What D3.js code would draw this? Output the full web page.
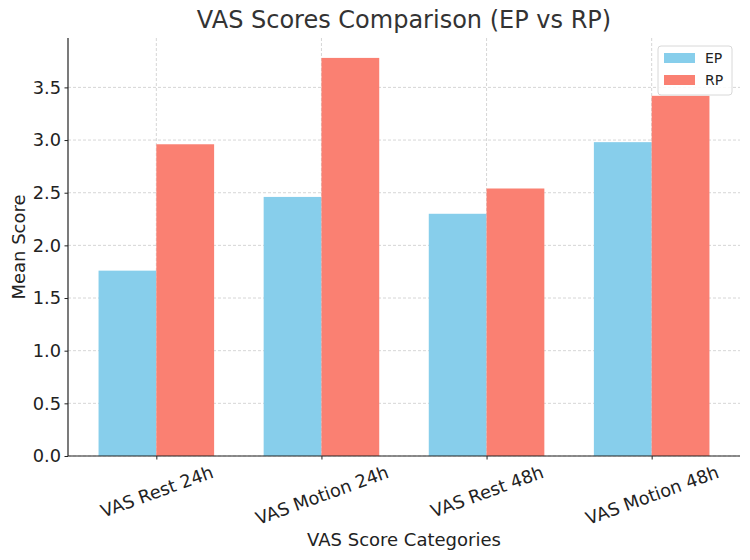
<!DOCTYPE html>
<html>
<head>
<meta charset="utf-8">
<script src="https://cdn.jsdelivr.net/npm/d3@7"></script>
<style>
  body { margin: 0; background: #fff; }
  svg { font-family: "DejaVu Sans", sans-serif; }
</style>
</head>
<body>
<svg></svg>
<script>
const categories = ["VAS Rest 24h", "VAS Motion 24h", "VAS Rest 48h", "VAS Motion 48h"];
const seriesNames = ["EP", "RP"];
const epValues = [1.76, 2.46, 2.30, 2.98];
const rpValues = [2.96, 3.78, 2.54, 3.42];
const yTicks = [0, 0.5, 1.0, 1.5, 2.0, 2.5, 3.0, 3.5];

const colors = { EP: "#87ceeb", RP: "#fa8072" };

const width = 750;
const height = 560;
const plotLeft = 68;
const plotRight = 740;
const plotTop = 38;
const plotBottom = 456;
const barWidth = 0.35;
const tickFont = 17.8;
const labelFont = 18;

let xScale;
let yScale;

const svg = d3.select("svg");

const drawCanvas = () => {
  svg.attr("width", width).attr("height", height);
}

const generateScales = () => {
  // matplotlib style margins: bars span -0.35..3.35, plus 5% each side
  const lo = -barWidth, hi = categories.length - 1 + barWidth;
  const pad = (hi - lo) * 0.05;
  xScale = d3.scaleLinear().domain([lo - pad, hi + pad]).range([plotLeft, plotRight]);

  const ymax = d3.max(epValues.concat(rpValues)) * 1.05;
  yScale = d3.scaleLinear().domain([0, ymax]).range([plotBottom, plotTop]);
}

const generateGrid = () => {
  const g = svg.append("g").attr("class", "grid");
  g.selectAll("line.h")
    .data(yTicks)
    .enter()
    .append("line")
    .attr("x1", plotLeft)
    .attr("x2", plotRight)
    .attr("y1", (d) => yScale(d))
    .attr("y2", (d) => yScale(d))
    .attr("stroke", "#cccccc")
    .attr("stroke-width", 0.8)
    .attr("stroke-dasharray", "3,2");

  g.selectAll("line.v")
    .data(categories)
    .enter()
    .append("line")
    .attr("x1", (d, i) => xScale(i))
    .attr("x2", (d, i) => xScale(i))
    .attr("y1", plotTop)
    .attr("y2", plotBottom)
    .attr("stroke", "#cccccc")
    .attr("stroke-width", 0.8)
    .attr("stroke-dasharray", "3,2");
}

const generateBars = () => {
  const series = [
    { name: "EP", values: epValues, offset: -barWidth / 2 },
    { name: "RP", values: rpValues, offset: barWidth / 2 }
  ];
  series.forEach((s) => {
    svg.append("g")
      .selectAll("rect")
      .data(s.values)
      .enter()
      .append("rect")
      .attr("x", (d, i) => xScale(i + s.offset - barWidth / 2))
      .attr("width", xScale(barWidth) - xScale(0))
      .attr("y", (d) => yScale(d))
      .attr("height", (d) => yScale(0) - yScale(d))
      .style("fill", colors[s.name]);
  });
}

const generateAxes = () => {
  const yAxis = d3.axisLeft(yScale)
    .tickValues(yTicks)
    .tickFormat(d3.format(".1f"))
    .tickSize(3.5)
    .tickPadding(3.5);
  const yg = svg.append("g")
    .attr("transform", "translate(" + plotLeft + ",0)")
    .call(yAxis);
  yg.select(".domain").attr("stroke", "#222").attr("stroke-width", 1.2)
    .attr("d", "M0," + plotBottom + "V" + plotTop);
  yg.selectAll(".tick line").attr("stroke", "#222");
  yg.selectAll(".tick text").attr("font-size", tickFont).attr("fill", "#222")
    .attr("font-family", "DejaVu Sans");

  const xAxis = d3.axisBottom(xScale)
    .tickValues(d3.range(categories.length))
    .tickFormat((d) => categories[d])
    .tickSize(3.5)
    .tickPadding(6);
  const xg = svg.append("g")
    .attr("transform", "translate(0," + plotBottom + ")")
    .call(xAxis);
  xg.select(".domain").attr("stroke", "#222").attr("stroke-width", 1.2)
    .attr("d", "M" + plotLeft + ",0H" + plotRight);
  xg.selectAll(".tick line").attr("stroke", "#222");
  // rotate 20 deg, centred under the tick, top of the rotated box just under the axis
  const angle = 20 * Math.PI / 180;
  xg.selectAll(".tick text")
    .attr("font-size", tickFont)
    .attr("fill", "#222")
    .attr("font-family", "DejaVu Sans")
    .attr("text-anchor", "middle")
    .attr("y", 0)
    .attr("dy", "0.36em")
    .attr("transform", function () {
      const len = this.getComputedTextLength();
      const h = len * Math.sin(angle) + 0.73 * tickFont * Math.cos(angle);
      return "translate(0," + (9 + h / 2) + ") rotate(-20)";
    });
}

const generateTexts = () => {
  svg.append("text")
    .text("VAS Scores Comparison (EP vs RP)")
    .attr("x", (plotLeft + plotRight) / 2)
    .attr("y", 28)
    .attr("text-anchor", "middle")
    .attr("font-size", 24)
    .attr("fill", "#333");

  svg.append("text")
    .text("VAS Score Categories")
    .attr("x", (plotLeft + plotRight) / 2)
    .attr("y", 546)
    .attr("text-anchor", "middle")
    .attr("font-size", labelFont)
    .attr("fill", "#222");

  svg.append("text")
    .text("Mean Score")
    .attr("transform", "translate(25," + (plotTop + plotBottom) / 2 + ") rotate(-90)")
    .attr("text-anchor", "middle")
    .attr("font-size", labelFont)
    .attr("fill", "#222");
}

const generateLegend = () => {
  const lg = svg.append("g").attr("id", "legend").attr("transform", "translate(658,46)");
  lg.append("rect")
    .attr("width", 74).attr("height", 49)
    .attr("rx", 3)
    .attr("fill", "white").attr("fill-opacity", 0.85)
    .attr("stroke", "#d8d8d8");
  seriesNames.forEach((name, i) => {
    lg.append("rect")
      .attr("x", 6).attr("y", 7 + i * 22)
      .attr("width", 31).attr("height", 10)
      .style("fill", colors[name]);
    lg.append("text")
      .text(name)
      .attr("x", 47).attr("y", 17 + i * 22)
      .attr("font-size", 14)
      .attr("fill", "#222");
  });
}

drawCanvas();
generateScales();
generateGrid();
generateBars();
generateAxes();
generateTexts();
generateLegend();
</script>
</body>
</html>
